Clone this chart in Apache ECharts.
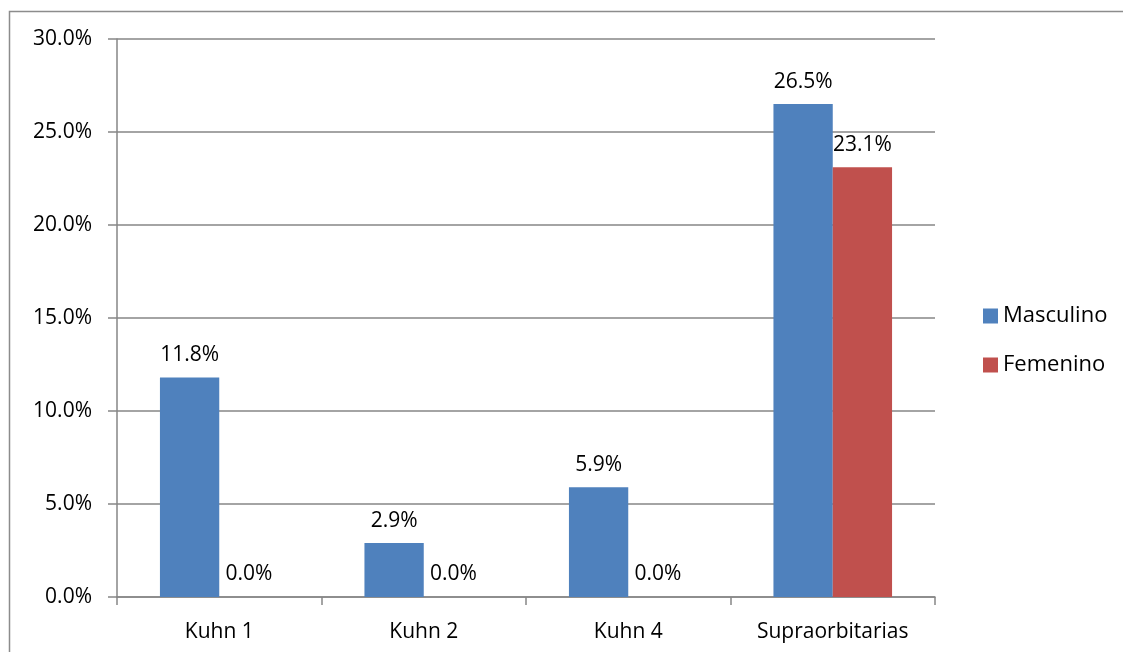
<!DOCTYPE html>
<html>
<head>
<meta charset="utf-8">
<script src="https://cdn.jsdelivr.net/npm/echarts@6/dist/echarts.min.js"></script>
<style>
  html, body { margin: 0; padding: 0; background: #fff; }
  #chart { width: 1123px; height: 652px; }
</style>
</head>
<body>
<div id="chart"></div>
<script>
// categories and series values (percent)
var categories = ["Kuhn 1", "Kuhn 2", "Kuhn 4", "Supraorbitarias"]
var masculino = [11.8, 2.9, 5.9, 26.5]
var femenino = [0.0, 0.0, 0.0, 23.1]

var fontFamily = "'Open Sans', 'Liberation Sans', sans-serif"
var fontSize = 21
var myChart = echarts.init(document.getElementById("chart"))

function pct (v) {
  return v.toFixed(1) + "%"
}

var barLabel = {
  show: true,
  position: "top",
  distance: 12,
  color: "#000",
  fontSize: fontSize,
  fontFamily: fontFamily,
  formatter: function (p) { return pct(p.value) }
}

myChart.setOption({
  animation: false,
  color: ["#4F81BD", "#C0504D"],
  textStyle: { fontFamily: fontFamily },
  graphic: [{
    type: "rect",
    shape: { x: 9.5, y: 11.5, width: 1200, height: 700 },
    style: { fill: "none", stroke: "#8c8c8c", lineWidth: 1.5 },
    silent: true
  }],
  grid: {
    left: 117,
    right: 188,
    top: 39,
    bottom: 55,
    containLabel: false
  },
  legend: {
    orient: "vertical",
    left: 978,
    top: 300,
    itemWidth: 15,
    itemHeight: 15,
    itemGap: 27,
    icon: "rect",
    textStyle: { fontSize: 22, color: "#000", fontFamily: fontFamily },
    data: ["Masculino", "Femenino"]
  },
  xAxis: {
    type: "category",
    data: categories,
    axisLine: { lineStyle: { color: "#868686", width: 1.5 } },
    axisTick: { show: true, length: 8, interval: 0, lineStyle: { color: "#868686", width: 1.5 } },
    axisLabel: { color: "#000", fontSize: fontSize, margin: 25, fontFamily: fontFamily, interval: 0 }
  },
  yAxis: {
    type: "value",
    min: 0,
    max: 30,
    interval: 5,
    axisLine: { show: true, lineStyle: { color: "#868686", width: 1.5 } },
    axisTick: { show: true, length: 9, lineStyle: { color: "#868686", width: 1.5 } },
    axisLabel: {
      color: "#000",
      fontSize: fontSize,
      margin: 25,
      fontFamily: fontFamily,
      formatter: function (v) { return pct(v) }
    },
    splitLine: { lineStyle: { color: "#868686", width: 1.5 } }
  },
  series: [
    {
      name: "Masculino",
      type: "bar",
      data: masculino,
      barGap: "0%",
      barCategoryGap: "42%",
      label: barLabel
    },
    {
      name: "Femenino",
      type: "bar",
      data: femenino,
      label: barLabel
    }
  ]
})
</script>
</body>
</html>
